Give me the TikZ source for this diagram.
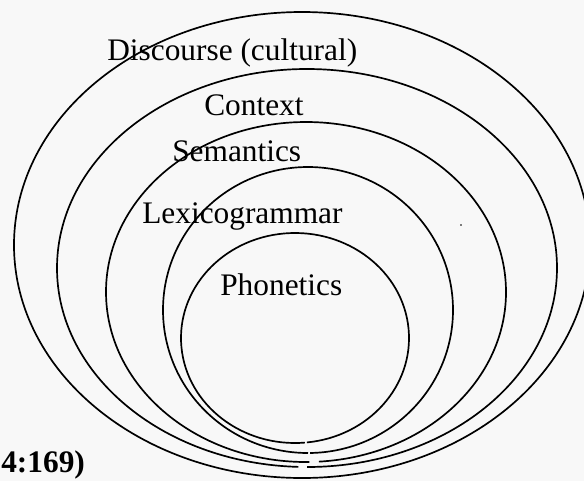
\documentclass[tikz,border=0pt]{standalone}
\usepackage{fontspec}
\setmainfont{Liberation Serif}
\usepackage{tikz}
\usepackage{xcolor}
\definecolor{paper}{HTML}{F8F8F8}

\begin{document}
\begin{tikzpicture}[x=0.025cm,y=-0.025cm,
  ring/.style={draw=black,line width=1.2pt},
  ringlabel/.style={inner sep=0pt,anchor=base west,font=\fontsize{22.3}{26}\selectfont}]
\useasboundingbox (0,0) rectangle (584,481);
\clip (0,0) rectangle (584,481);
\fill[paper] (0,0) rectangle (584,481);
\draw[ring] (302,245) ellipse [x radius=288, y radius=233];
\draw[ring] (307,268) ++(92:250 and 199) arc [start angle=92, end angle=450, x radius=250, y radius=199];
\draw[ring] (306,292) ++(89:200 and 170) arc [start angle=89, end angle=446.3, x radius=200, y radius=170];
\draw[ring] (308,310) ++(90:145 and 143) arc [start angle=90, end angle=449.2, x radius=145, y radius=143];
\draw[ring] (295,338) ++(85:114 and 105) arc [start angle=85, end angle=444, x radius=114, y radius=105];
\fill (461,225) circle [radius=0.8];
\node[ringlabel] (discourse) at (107,60) {Discourse (cultural)};
\node[ringlabel] (context) at (204,115) {Context};
\node[ringlabel] (semantics) at (172,161) {Semantics};
\node[ringlabel] (lexico) at (142,223) {Lexicogrammar};
\node[ringlabel] (phonetics) at (220,295) {Phonetics};
\node[ringlabel,font=\fontsize{22.3}{26}\selectfont\bfseries] (cite) at (1,472) {4:169)};
\end{tikzpicture}
\end{document}
